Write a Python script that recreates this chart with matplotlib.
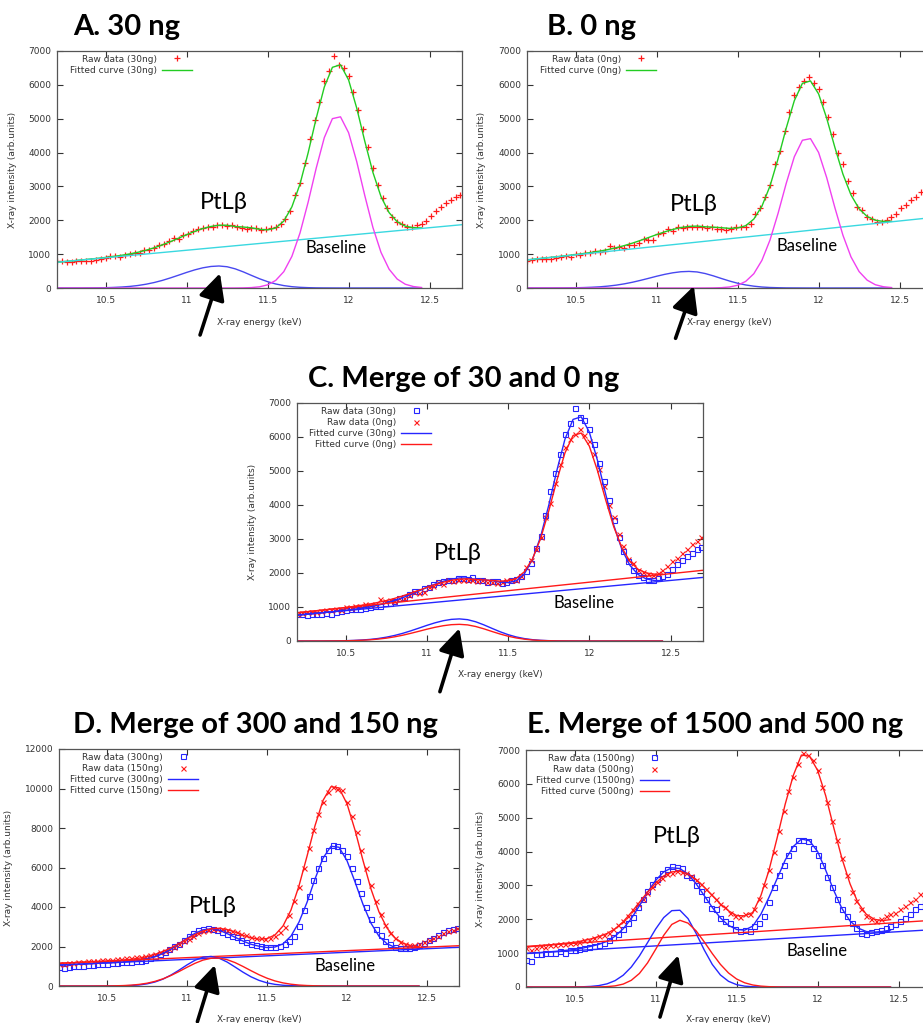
import matplotlib
matplotlib.use('Agg')
import matplotlib.pyplot as plt

# ---- energies (keV) ----
raw_energy = [
    10.20, 10.23, 10.26, 10.29, 10.32, 10.35, 10.38, 10.41, 10.44, 10.47, 10.50, 10.53,
    10.56, 10.59, 10.62, 10.65, 10.68, 10.71, 10.74, 10.77, 10.80, 10.83, 10.86, 10.89,
    10.92, 10.95, 10.98, 11.01, 11.04, 11.07, 11.10, 11.13, 11.16, 11.19, 11.22, 11.25,
    11.28, 11.31, 11.34, 11.37, 11.40, 11.43, 11.46, 11.49, 11.52, 11.55, 11.58, 11.61,
    11.64, 11.67, 11.70, 11.73, 11.76, 11.79, 11.82, 11.85, 11.88, 11.91, 11.94, 11.97,
    12.00, 12.03, 12.06, 12.09, 12.12, 12.15, 12.18, 12.21, 12.24, 12.27, 12.30, 12.33,
    12.36, 12.39, 12.42, 12.45, 12.48, 12.51, 12.54, 12.57, 12.60, 12.63, 12.66, 12.69]

fit_energy = [
    10.20, 10.25, 10.30, 10.35, 10.40, 10.45, 10.50, 10.55, 10.60, 10.65,
    10.70, 10.75, 10.80, 10.85, 10.90, 10.95, 11.00, 11.05, 11.10, 11.15,
    11.20, 11.25, 11.30, 11.35, 11.40, 11.45, 11.50, 11.55, 11.60, 11.65,
    11.70, 11.75, 11.80, 11.85, 11.90, 11.95, 12.00, 12.05, 12.10, 12.15,
    12.20, 12.25, 12.30, 12.35, 12.40, 12.45]

base_energy = [10.2, 12.7]

# ---- A: 30 ng ----
raw_30 = [
    800, 790, 770, 780, 790, 800, 810, 800, 840, 870, 900, 950,
    940, 930, 980, 990, 1030, 1040, 1110, 1130, 1170, 1260, 1300, 1390,
    1470, 1460, 1560, 1600, 1690, 1750, 1760, 1800, 1790, 1850, 1860, 1830,
    1870, 1800, 1780, 1730, 1760, 1770, 1720, 1730, 1780, 1810, 1900, 2050,
    2280, 2750, 3100, 3700, 4400, 4950, 5500, 6100, 6400, 6850, 6600, 6500,
    6250, 5800, 5250, 4700, 4150, 3550, 3050, 2650, 2350, 2100, 1950, 1880,
    1800, 1790, 1850, 1900, 1980, 2120, 2260, 2380, 2500, 2600, 2700, 2760]
fit_30 = [
    760, 782, 805, 828, 852, 876, 902, 932, 967, 1007,
    1056, 1116, 1188, 1273, 1369, 1471, 1575, 1672, 1756, 1818,
    1854, 1854, 1815, 1801, 1778, 1733, 1717, 1772, 1976, 2398,
    3070, 3989, 5013, 5936, 6518, 6593, 6145, 5316, 4333, 3415,
    2700, 2225, 1956, 1826, 1780, 1774]
ptlb_30 = [
    0, 0, 1, 1, 3, 5, 9, 17, 29, 47,
    74, 112, 162, 224, 298, 378, 460, 535, 596, 636,
    650, 628, 566, 476, 373, 273, 187, 119, 71, 39,
    20, 10, 4, 2, 1, 0, 0, 0, 0, 0,
    0, 0, 0, 0, 0, 0]
main_30 = [
    0, 0, 0, 0, 0, 0, 0, 0, 0, 0,
    0, 0, 0, 0, 0, 0, 0, 0, 0, 0,
    0, 0, 1, 4, 12, 35, 93, 224, 483, 935,
    1624, 2531, 3539, 4441, 5002, 5056, 4586, 3735, 2729, 1789,
    1052, 555, 264, 111, 43, 15]
base_30 = [760, 1870]

# ---- B: 0 ng ----
raw_0 = [
    800, 820, 850, 850, 860, 870, 900, 910, 950, 920, 1010, 980,
    1040, 1030, 1100, 1070, 1080, 1240, 1180, 1220, 1190, 1260, 1270, 1340,
    1440, 1420, 1430, 1600, 1620, 1730, 1680, 1790, 1770, 1790, 1800, 1790,
    1800, 1770, 1790, 1740, 1750, 1720, 1730, 1790, 1800, 1790, 1900, 2180,
    2370, 2700, 3050, 3650, 4050, 4650, 5200, 5700, 5950, 6100, 6230, 6050,
    5880, 5500, 5050, 4550, 4000, 3650, 3150, 2800, 2400, 2300, 2100, 2030,
    1960, 1950, 2000, 2100, 2200, 2350, 2450, 2600, 2700, 2850, 2950, 3050]
fit_0 = [
    830, 855, 881, 906, 932, 959, 987, 1018, 1052, 1090,
    1136, 1189, 1252, 1324, 1405, 1490, 1577, 1658, 1729, 1785,
    1820, 1829, 1808, 1797, 1781, 1761, 1772, 1840, 2035, 2415,
    3012, 3821, 4721, 5532, 6045, 6116, 5732, 5014, 4161, 3366,
    2748, 2340, 2111, 2002, 1967, 1968]
ptlb_0 = [
    0, 0, 1, 1, 2, 4, 7, 13, 22, 35,
    56, 84, 122, 169, 225, 285, 347, 403, 449, 480,
    490, 474, 427, 359, 281, 206, 141, 90, 54, 29,
    15, 8, 3, 2, 1, 0, 0, 0, 0, 0,
    0, 0, 0, 0, 0, 0]
main_0 = [
    0, 0, 0, 0, 0, 0, 0, 0, 0, 0,
    0, 0, 0, 0, 0, 0, 0, 0, 0, 0,
    0, 0, 1, 3, 10, 30, 81, 195, 421, 816,
    1417, 2208, 3088, 3875, 4364, 4411, 4002, 3259, 2381, 1561,
    918, 485, 231, 97, 37, 13]
base_0 = [830, 2080]

# ---- D: 300 and 150 ng ----
raw_300 = [
    950, 930, 960, 1000, 1010, 1030, 1060, 1080, 1100, 1090, 1110, 1150,
    1160, 1190, 1210, 1240, 1270, 1290, 1340, 1400, 1500, 1600, 1700, 1850,
    2050, 2150, 2350, 2550, 2700, 2820, 2900, 2930, 2880, 2830, 2730, 2620,
    2540, 2460, 2330, 2250, 2120, 2100, 2050, 1950, 1960, 2000, 2040, 2120,
    2300, 2550, 3050, 3850, 4550, 5350, 6000, 6500, 6900, 7150, 7100, 6900,
    6600, 6000, 5300, 4700, 4000, 3400, 2900, 2600, 2300, 2150, 2000, 1920,
    1900, 1930, 2000, 2100, 2200, 2350, 2450, 2600, 2750, 2850, 2880, 2950]
raw_150 = [
    1100, 1120, 1150, 1180, 1200, 1230, 1250, 1260, 1280, 1300, 1320, 1340,
    1360, 1380, 1400, 1430, 1460, 1490, 1530, 1580, 1640, 1720, 1780, 1880,
    2000, 2130, 2280, 2400, 2550, 2680, 2800, 2860, 2900, 2880, 2880, 2830,
    2790, 2710, 2640, 2560, 2500, 2440, 2420, 2400, 2450, 2520, 2750, 3000,
    3600, 4300, 5000, 6000, 7000, 7900, 8700, 9300, 9800, 10100, 10000, 9900,
    9300, 8600, 7800, 6900, 6000, 5100, 4300, 3650, 3100, 2700, 2450, 2250,
    2150, 2080, 2100, 2150, 2250, 2350, 2450, 2550, 2700, 2800, 2850, 2950]
fit_300 = [
    1060, 1078, 1096, 1114, 1132, 1150, 1169, 1190, 1214, 1246,
    1292, 1367, 1479, 1643, 1867, 2132, 2416, 2670, 2843, 2899,
    2829, 2655, 2469, 2274, 2113, 2014, 1948, 1975, 2133, 2529,
    3236, 4233, 5418, 6472, 7076, 7026, 6346, 5274, 4133, 3178,
    2519, 2138, 1954, 1883, 1867, 1874]
fit_150 = [
    1150, 1168, 1186, 1203, 1221, 1241, 1261, 1285, 1313, 1352,
    1408, 1487, 1598, 1745, 1932, 2150, 2382, 2602, 2781, 2892,
    2919, 2860, 2734, 2565, 2441, 2371, 2401, 2585, 3039, 3850,
    5073, 6570, 8116, 9394, 10093, 10030, 9225, 7897, 6356, 4909,
    3751, 2935, 2434, 2163, 2037, 1990]
ptlb_300 = [
    0, 0, 0, 0, 0, 0, 1, 4, 10, 24,
    52, 109, 203, 349, 555, 802, 1068, 1304, 1459, 1497,
    1409, 1217, 963, 700, 466, 285, 159, 82, 38, 17,
    7, 2, 1, 0, 0, 0, 0, 0, 0, 0,
    0, 0, 0, 0, 0, 0]
ptlb_150 = [
    0, 0, 0, 0, 0, 2, 4, 10, 21, 42,
    80, 141, 234, 364, 533, 733, 947, 1149, 1311, 1404,
    1413, 1336, 1186, 989, 775, 571, 395, 256, 157, 90,
    48, 24, 12, 5, 2, 0, 0, 0, 0, 0,
    0, 0, 0, 0, 0, 0]
base_300 = [1060, 1960]
base_150 = [1150, 2040]

# ---- E: 1500 and 500 ng ----
raw_1500 = [
    800, 780, 960, 970, 990, 1000, 1010, 1050, 1000, 1100, 1090, 1110,
    1150, 1180, 1210, 1250, 1300, 1380, 1470, 1560, 1720, 1900, 2080, 2350,
    2600, 2830, 3050, 3200, 3380, 3500, 3580, 3550, 3520, 3300, 3250, 3000,
    2850, 2600, 2330, 2300, 2050, 1950, 1880, 1700, 1650, 1680, 1650, 1800,
    1900, 2100, 2500, 2950, 3300, 3600, 3900, 4100, 4350, 4350, 4300, 4100,
    3900, 3600, 3250, 2950, 2600, 2300, 2100, 1900, 1750, 1600, 1580, 1620,
    1640, 1680, 1750, 1800, 1850, 1950, 2050, 2150, 2300, 2400, 2500, 2550]
raw_500 = [
    1150, 1100, 1150, 1200, 1180, 1250, 1230, 1280, 1260, 1290, 1300, 1340,
    1380, 1400, 1450, 1500, 1550, 1600, 1700, 1820, 1950, 2100, 2280, 2450,
    2600, 2780, 2950, 3100, 3230, 3350, 3380, 3420, 3400, 3370, 3280, 3150,
    3050, 2900, 2750, 2600, 2450, 2350, 2200, 2100, 2080, 2150, 2150, 2300,
    2600, 3000, 3450, 4000, 4600, 5200, 5800, 6200, 6600, 6900, 6850, 6700,
    6400, 5900, 5450, 4900, 4350, 3800, 3300, 2800, 2550, 2300, 2100, 2000,
    1950, 2000, 2100, 2150, 2200, 2300, 2400, 2500, 2600, 2750, 2850, 2950]
fit_1500 = [
    990, 1005, 1020, 1040, 1060, 1085, 1110, 1150, 1200, 1260,
    1350, 1500, 1720, 2020, 2400, 2800, 3150, 3400, 3520, 3500,
    3330, 3050, 2700, 2350, 2040, 1820, 1700, 1680, 1800, 2150,
    2650, 3200, 3750, 4150, 4370, 4320, 4000, 3450, 2850, 2320,
    1950, 1740, 1640, 1620, 1640, 1680]
fit_500 = [
    1180, 1200, 1220, 1245, 1270, 1295, 1320, 1365, 1420, 1490,
    1580, 1720, 1930, 2200, 2500, 2800, 3070, 3280, 3400, 3420,
    3340, 3180, 2950, 2700, 2450, 2250, 2110, 2100, 2200, 2700,
    3450, 4400, 5400, 6250, 6850, 6820, 6400, 5650, 4700, 3800,
    3050, 2480, 2150, 2000, 1960, 1990]
ptlb_1500 = [
    0, 0, 0, 0, 0, 0, 2, 7, 18, 42,
    93, 188, 348, 590, 917, 1308, 1710, 2050, 2255, 2267,
    2021, 1586, 1096, 666, 356, 168, 70, 25, 8, 2,
    0, 0, 0, 0, 0, 0, 0, 0, 0, 0,
    0, 0, 0, 0, 0, 0]
ptlb_500 = [
    0, 0, 0, 0, 0, 0, 0, 0, 1, 3,
    11, 33, 86, 198, 400, 710, 1110, 1526, 1848, 1970,
    1887, 1658, 1335, 987, 669, 415, 236, 124, 59, 26,
    10, 4, 1, 0, 0, 0, 0, 0, 0, 0,
    0, 0, 0, 0, 0, 0]
base_1500 = [990, 1690]
base_500 = [1200, 1967]

x_ticks = [10.5, 11, 11.5, 12, 12.5]
x_tick_labels = ['10.5', '11', '11.5', '12', '12.5']

# 顏色與字型
RED = '#ff1a1a'
BLUE = '#2626ff'
GREEN = '#22cc22'
CYAN = '#3ad8e0'
GBLUE = '#4848f0'
MAGENTA = '#f040f0'
TEXT = '#333333'
BIG_FONT = ['Lato', 'Open Sans', 'DejaVu Sans']
W, H = 923.0, 1023.0


def px_box(left, top, right, bottom):
    return [left / W, 1 - bottom / H, (right - left) / W, (bottom - top) / H]


def setup_axes(ax, ymax, ystep, ylab_x, xlab_y):
    ax.set_xlim(10.2, 12.7)
    ax.set_ylim(0, ymax)
    ax.set_xticks(x_ticks)
    ax.set_xticklabels(x_tick_labels)
    ax.set_yticks(list(range(0, ymax + 1, ystep)))
    ax.tick_params(direction='in', top=True, right=True, length=4, width=0.8,
                   labelsize=6.5, colors=TEXT, pad=4)
    ax.tick_params(axis='x', pad=6)
    for s in ax.spines.values():
        s.set_color('#555555')
        s.set_linewidth(0.9)
    ax.set_ylabel('X-ray intensity (arb.units)', fontsize=6.5, color=TEXT)
    ax.set_xlabel('X-ray energy (keV)', fontsize=6.5, color=TEXT)
    ax.yaxis.set_label_coords(ylab_x, 0.5)
    ax.xaxis.set_label_coords(0.5, xlab_y)


def add_legend(ax, anchor_x):
    ax.legend(loc='upper right', bbox_to_anchor=(anchor_x, 0.985), frameon=False,
              markerfirst=False, fontsize=6.5, handlelength=3.3, handletextpad=0.6,
              labelspacing=0.25, borderpad=0, borderaxespad=0, labelcolor=TEXT)


def mark_peak(ax, tip, tail, label_xy, base_xy):
    ax.annotate('', xy=tip, xytext=tail, annotation_clip=False,
                arrowprops=dict(arrowstyle='-|>,head_length=0.8,head_width=0.4',
                                lw=2.6, color='black', shrinkA=0, shrinkB=0,
                                mutation_scale=20))
    ax.text(label_xy[0], label_xy[1], 'PtLβ', fontsize=17, family=BIG_FONT,
            ha='center', va='center')
    ax.text(base_xy[0], base_xy[1], 'Baseline', fontsize=12, family=BIG_FONT,
            ha='center', va='center')


def single_panel(ax, raw, fit, ptlb, main, base, tag):
    ax.plot(raw_energy, raw, ls='none', marker='+', ms=5, mew=0.9, color=RED,
            label='Raw data (%s)' % tag)
    ax.plot(fit_energy, fit, color=GREEN, lw=1.0, label='Fitted curve (%s)' % tag)
    ax.plot(base_energy, base, color=CYAN, lw=1.0)
    ax.plot(fit_energy, ptlb, color=GBLUE, lw=1.0)
    ax.plot(fit_energy, main, color=MAGENTA, lw=1.0)


def merged_panel(ax, raws, fits, ptlbs, bases, tags):
    ax.plot(raw_energy, raws[0], ls='none', marker='s', ms=3.6, mew=0.8, mfc='none',
            color=BLUE, label='Raw data (%s)' % tags[0])
    ax.plot(raw_energy, raws[1], ls='none', marker='x', ms=3.6, mew=0.8,
            color=RED, label='Raw data (%s)' % tags[1])
    ax.plot(fit_energy, fits[0], color=BLUE, lw=1.0, label='Fitted curve (%s)' % tags[0])
    ax.plot(fit_energy, fits[1], color=RED, lw=1.0, label='Fitted curve (%s)' % tags[1])
    ax.plot(base_energy, bases[0], color=BLUE, lw=1.0)
    ax.plot(base_energy, bases[1], color=RED, lw=1.0)
    ax.plot(fit_energy, ptlbs[0], color=BLUE, lw=1.0)
    ax.plot(fit_energy, ptlbs[1], color=RED, lw=1.0)


fig = plt.figure(figsize=(9.23, 10.23), dpi=100, facecolor='white')

# A
ax_a = fig.add_axes(px_box(57, 51, 462, 288))
single_panel(ax_a, raw_30, fit_30, ptlb_30, main_30, base_30, '30ng')
setup_axes(ax_a, 7000, 1000, -0.099, -0.127)
add_legend(ax_a, 0.333)
mark_peak(ax_a, (11.206, 434), (11.083, -1388), (11.23, 2540), (11.92, 1172))

# B (runs past the right edge of the page)
ax_b = fig.add_axes(px_box(527, 51, 932, 288))
single_panel(ax_b, raw_0, fit_0, ptlb_0, main_0, base_0, '0ng')
setup_axes(ax_b, 7000, 1000, -0.1, -0.127)
add_legend(ax_b, 0.319)
mark_peak(ax_b, (11.23, 60), (11.117, -1486), (11.23, 2480), (11.93, 1240))

# C
ax_c = fig.add_axes(px_box(297, 403, 703, 641))
merged_panel(ax_c, [raw_30, raw_0], [fit_30, fit_0], [ptlb_30, ptlb_0],
             [base_30, base_0], ['30ng', '0ng'])
setup_axes(ax_c, 7000, 1000, -0.099, -0.122)
add_legend(ax_c, 0.33)
mark_peak(ax_c, (11.20, 373), (11.08, -1491), (11.19, 2579), (11.97, 1109))

# D
ax_d = fig.add_axes(px_box(59, 749, 459, 986))
merged_panel(ax_d, [raw_300, raw_150], [fit_300, fit_150], [ptlb_300, ptlb_150],
             [base_300, base_150], ['300ng', '150ng'])
setup_axes(ax_d, 12000, 2000, -0.114, -0.122)
add_legend(ax_d, 0.348)
mark_peak(ax_d, (11.174, 1063), (11.065, -1808), (11.16, 4015), (11.99, 1028))

# E
ax_e = fig.add_axes(px_box(526, 750, 931, 987))
merged_panel(ax_e, [raw_1500, raw_500], [fit_1500, fit_500], [ptlb_1500, ptlb_500],
             [base_1500, base_500], ['1500ng', '500ng'])
setup_axes(ax_e, 7000, 1000, -0.101, -0.118)
add_legend(ax_e, 0.354)
mark_peak(ax_e, (11.14, 938), (11.027, -887), (11.13, 4437), (11.998, 1065))

# 標題
titles = [('A. 30 ng', 73, 35), ('B. 0 ng', 547, 35),
          ('C. Merge of 30 and 0 ng', 308, 387),
          ('D. Merge of 300 and 150 ng', 73, 733),
          ('E. Merge of 1500 and 500 ng', 527, 733)]
for txt, x, y in titles:
    fig.text(x / W, 1 - y / H, txt, fontsize=21, fontweight='bold', family=BIG_FONT,
             ha='left', va='baseline')

fig.savefig('out.png', dpi=100, facecolor='white')
